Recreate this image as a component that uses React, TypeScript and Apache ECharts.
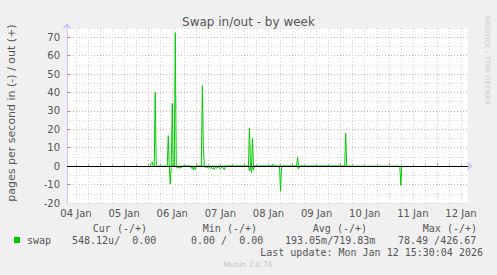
import React, { useEffect, useRef } from "react";
import * as echarts from "echarts";

// hours since 04 Jan 00:00
const xMin = 7.5;
const xMax = 207.5;
const sixHourTicks = [12, 18, 30, 36, 42, 54, 60, 66, 78, 84, 90, 102, 108, 114, 126, 132, 138, 150, 156, 162, 174, 180, 186, 198, 204];
const midnightTicks = [24, 48, 72, 96, 120, 144, 168, 192];
const noonLabels = [12, 36, 60, 84, 108, 132, 156, 180, 204];
const dayLabels = ["04 Jan", "05 Jan", "06 Jan", "07 Jan", "08 Jan", "09 Jan", "10 Jan", "11 Jan", "12 Jan"];
const yMajorLines = [-10, 0, 10, 20, 30, 40, 50, 60, 70];
const yLabels = [-20, -10, 0, 10, 20, 30, 40, 50, 60, 70];

// swap out (+) : [hour, pages/s]
const swapOut: [number, number][] = [
  [49, 0], [49.5, 1.5], [50, 2.2], [50.5, 0], [51, 0], [51.5, 40], [52, 0],
  [57.5, 0], [58, 16.5], [58.5, 0], [59.5, 0], [60, 34], [60.5, 0], [61, 0], [61.5, 72.5], [62, 0],
  [74.5, 0], [75, 43.6], [75.5, 10.4], [76, 0],
  [98, 0], [98.5, 20.8], [99, 0], [99.5, 0], [100, 15], [100.5, 0],
  [109.5, 0], [110, 1.1], [110.5, 0.8], [111, 0],
  [122, 0], [122.5, 4.7], [123, 0],
  [146, 0], [146.5, 18], [147, 0],
];

// swap in (-) : [hour, -pages/s]
const swapIn: [number, number][] = [
  [58.5, 0], [59, -9.7], [59.5, 0],
  [62, 0], [62.5, -1], [63, -0.5], [63.5, -1.2], [64, -0.4], [64.5, -1], [65, 0],
  [69, 0], [69.5, -1.2], [70, -0.3], [70.5, -2], [71, -0.5], [71.5, -1.8], [72, 0],
  [76, 0], [76.5, -0.8], [77, -0.3], [78, -1], [78.5, -0.5], [79, -1.2], [79.5, -0.6], [80, -1.5],
  [80.5, -0.8], [81, -1.8], [81.5, -0.5], [82, -1], [83, -0.6], [84, -1.4], [85, -0.5], [86, -2], [86.5, 0],
  [98, 0], [98.5, -2.5], [99, 0], [99.5, -3.4], [100, 0], [100.5, -2], [101, 0],
  [113.5, 0], [114, -13.7], [114.5, 0],
  [122.5, 0], [123, -1.5], [123.5, 0],
  [127.5, 0], [128, -0.3], [128.5, 0],
  [168, 0], [168.5, -0.5], [169, 0],
  [173.5, 0], [174, -10.5], [174.5, 0],
];

const title = "Swap in/out - by week";
const yName = "pages per second in (-) / out (+)";
const headers = ["Cur (-/+)", "Min (-/+)", "Avg (-/+)", "Max (-/+)"];
const seriesName = "swap";
const statValues = ["548.12u/  0.00", "0.00 /  0.00", "193.05m/719.83m", "78.49 /426.67"];
const lastUpdate = "Last update: Mon Jan 12 15:30:04 2026";
const footer = "Munin 2.0.76";
const watermark = "RRDTOOL / TOBI OETIKER";

const GREEN = "#00cc00";
const MINOR = "#d4d4d4";
const MAJOR = "rgba(225,120,120,0.45)";
const AXIS = "#c8c8f8";
const TEXT = "#555555";
const MONO = "DejaVu Sans Mono";
const SANS = "DejaVu Sans";

export default function App() {
  const ref = useRef<HTMLDivElement>(null);
  useEffect(() => {
    document.body.style.margin = "0";
    const chart = echarts.init(ref.current!, null, { renderer: "svg" });
    const headerRight = [147, 257, 367, 477];
    const valueLeft = [72, 191, 285, 398];
    chart.setOption({
      animation: false,
      backgroundColor: "#f0f0f0",
      title: {
        text: title,
        left: "center",
        top: 11,
        textStyle: { fontFamily: SANS, fontSize: 12, fontWeight: "normal", color: TEXT },
      },
      grid: {
        left: 67, right: 29, top: 28, bottom: 72,
        show: true, backgroundColor: "#ffffff", borderWidth: 0,
      },
      xAxis: [
        {
          type: "value", min: xMin, max: xMax, position: "bottom",
          axisLine: { show: true, lineStyle: { color: AXIS, width: 1 }, symbol: ["none", "arrow"], symbolSize: [7, 6], symbolOffset: [0, 5] },
          axisTick: { show: true, inside: true, length: 2, customValues: sixHourTicks, lineStyle: { color: "#aaaaaa" } },
          axisLabel: { show: false },
          splitLine: { show: true, lineStyle: { color: MINOR, type: [1, 2], width: 1 } },
        },
        {
          type: "value", min: xMin, max: xMax, position: "bottom",
          axisLine: { show: false },
          axisTick: { show: true, inside: true, length: 3, customValues: midnightTicks, lineStyle: { color: "#e08080" } },
          axisLabel: {
            show: true, customValues: noonLabels, margin: 5,
            fontFamily: SANS, fontSize: 10, color: TEXT,
            formatter: (v: number) => dayLabels[noonLabels.indexOf(v)] ?? "",
          },
          splitLine: { show: true, lineStyle: { color: MAJOR, type: [1, 2], width: 1 } },
        },
      ],
      yAxis: [
        {
          type: "value", min: -20, max: 75, interval: 5, position: "left",
          axisLine: { show: true, lineStyle: { color: AXIS, width: 1 }, symbol: ["none", "arrow"], symbolSize: [7, 6], symbolOffset: [0, 5] },
          axisTick: { show: false },
          axisLabel: { show: false },
          splitLine: { show: true, lineStyle: { color: MINOR, type: [1, 2], width: 1 } },
        },
        {
          type: "value", min: -20, max: 75, position: "left",
          axisLine: { show: false },
          axisTick: { show: true, inside: true, length: 3, customValues: yMajorLines, lineStyle: { color: "#e08080" } },
          axisLabel: { show: true, customValues: yLabels, margin: 7, fontFamily: SANS, fontSize: 10, color: TEXT },
          splitLine: { show: true, lineStyle: { color: MAJOR, type: [1, 2], width: 1 } },
        },
      ],
      series: [
        {
          type: "line", name: "out", xAxisIndex: 0, yAxisIndex: 0, data: swapOut,
          symbol: "none", lineStyle: { color: GREEN, width: 1 }, itemStyle: { color: GREEN }, z: 3,
        },
        {
          type: "line", name: "in", xAxisIndex: 0, yAxisIndex: 0, data: swapIn,
          symbol: "none", lineStyle: { color: GREEN, width: 1 }, itemStyle: { color: GREEN }, z: 3,
          markLine: {
            silent: true, symbol: ["none", "none"], label: { show: false },
            lineStyle: { color: "#000000", type: "solid", width: 1 },
            data: [{ yAxis: 0 }],
          },
        },
      ],
      graphic: [
        {
          type: "text", x: 11, y: 113, rotation: Math.PI / 2,
          style: { text: yName, fontFamily: SANS, fontSize: 11, fill: TEXT, align: "center", verticalAlign: "middle" },
        },
        {
          type: "text", x: 487, y: 60, rotation: -Math.PI / 2,
          style: { text: watermark, fontFamily: SANS, fontSize: 7, fill: "#cccccc", align: "center", verticalAlign: "middle" },
        },
        ...headers.map((h, i) => ({
          type: "text", x: headerRight[i], y: 228,
          style: { text: h, fontFamily: MONO, fontSize: 10, fill: TEXT, align: "right", verticalAlign: "middle" },
        })),
        { type: "rect", shape: { x: 14, y: 237, width: 6, height: 6 }, style: { fill: GREEN } },
        {
          type: "text", x: 27, y: 240,
          style: { text: seriesName, fontFamily: MONO, fontSize: 10, fill: TEXT, align: "left", verticalAlign: "middle" },
        },
        ...statValues.map((t, i) => ({
          type: "text", x: valueLeft[i], y: 240,
          style: { text: t, fontFamily: MONO, fontSize: 10, fill: TEXT, align: "left", verticalAlign: "middle" },
        })),
        {
          type: "text", x: 483, y: 252,
          style: { text: lastUpdate, fontFamily: MONO, fontSize: 10, fill: TEXT, align: "right", verticalAlign: "middle" },
        },
        {
          type: "text", x: 248, y: 264,
          style: { text: footer, fontFamily: SANS, fontSize: 7.5, fill: "#c4c4c4", align: "center", verticalAlign: "middle" },
        },
      ],
    });
    return () => chart.dispose();
  }, []);
  return <div ref={ref} style={{ position: "fixed", left: 0, top: 0, width: 497, height: 275 }} />;
}
